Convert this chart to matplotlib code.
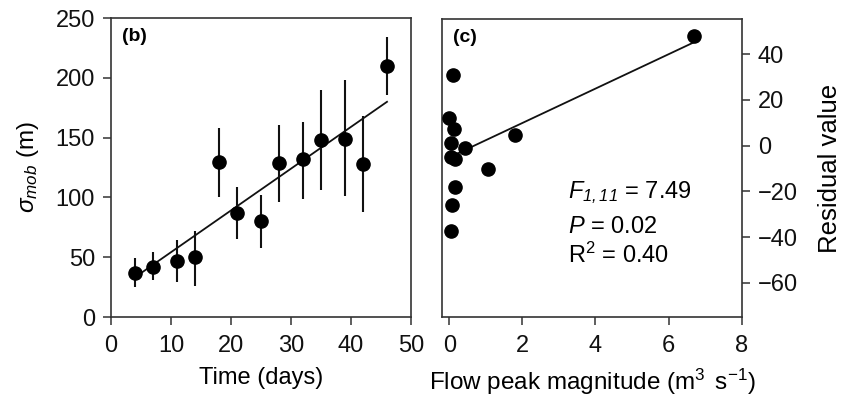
import matplotlib
matplotlib.use("Agg")
import matplotlib.pyplot as plt

plt.rcParams['font.family'] = ['Liberation Sans', 'DejaVu Sans']
plt.rcParams['mathtext.fontset'] = 'custom'
plt.rcParams['mathtext.rm'] = 'Liberation Sans'
plt.rcParams['mathtext.it'] = 'Liberation Sans:italic'
plt.rcParams['mathtext.bf'] = 'Liberation Sans:bold'
plt.rcParams['mathtext.sf'] = 'Liberation Sans:italic'

# Panel (b): sigma_mob vs time
time_days = [4, 7, 11, 14, 18, 21, 25, 28, 32, 35, 39, 42, 46]
sigma_mob = [37, 42, 47, 50, 130, 87, 80, 129, 132, 148, 149, 128, 210]
err_low = [25, 31, 29, 26, 100, 65, 58, 96, 99, 106, 101, 88, 186]
err_high = [49, 54, 64, 72, 158, 109, 102, 161, 163, 190, 198, 168, 234]
fit_b_x = [4.5, 46]
fit_b_y = [35, 180]

# Panel (c): residuals vs flow peak magnitude
flow_peak = [6.70, 0.11, 0.00, 0.13, 0.04, 0.42, 1.80, 0.05, 0.15, 1.07, 0.16, 0.07, 0.04]
residual = [48.2, 30.9, 12.3, 7.3, 1.0, -0.9, 4.7, -4.8, -6.0, -10.2, -18.2, -25.8, -37.2]
fit_c_x = [0.15, 6.7]
fit_c_y = [-4.0, 45.3]

FS = 17
fig = plt.figure(figsize=(8.45, 3.98), dpi=100)
ax1 = fig.add_axes([0.1314, 0.2035, 0.355, 0.751])
ax2 = fig.add_axes([0.5234, 0.2035, 0.3543, 0.7490])

spine_col = '#333333'
for ax in (ax1, ax2):
    for s in ax.spines.values():
        s.set_color(spine_col)
        s.set_linewidth(1.2)
    ax.tick_params(direction='out', length=5.5, width=1.1, pad=6, colors=spine_col,
                   labelsize=FS, labelcolor='#111111')
    ax.tick_params(axis='x', pad=7.5)

# Panel b
yerr = [[m - l for m, l in zip(sigma_mob, err_low)],
        [h - m for m, h in zip(sigma_mob, err_high)]]
ax1.errorbar(time_days, sigma_mob, yerr=yerr, fmt='o', color='black',
             ecolor='#111111', elinewidth=1.5, capsize=0, markersize=9.5, zorder=3)
ax1.plot(fit_b_x, fit_b_y, color='#111111', lw=1.3, zorder=2)
ax1.set_xlim(0, 50)
ax1.set_ylim(0, 250)
ax1.set_xticks([0, 10, 20, 30, 40, 50])
ax1.set_yticks([0, 50, 100, 150, 200, 250])
ax1.set_xlabel('Time (days)', fontsize=FS, labelpad=7)
ax1.set_ylabel(r'$\sigma_{mob}$ (m)', fontsize=17.5)
ax1.yaxis.set_label_coords(-0.235, 0.5)
ax1.text(0.037, 0.966, '(b)', transform=ax1.transAxes, fontsize=14,
         fontweight='bold', va='top', ha='left')

# Panel c
ax2.plot(flow_peak, residual, 'o', color='black', markersize=9.5, zorder=3)
ax2.plot(fit_c_x, fit_c_y, color='#111111', lw=1.3, zorder=2)
ax2.set_xlim(-0.19, 8)
ax2.set_ylim(-75, 55.5)
ax2.set_xticks([0, 2, 4, 6, 8])
ax2.set_yticks([-60, -40, -20, 0, 20, 40])
ax2.set_yticklabels(['\u221260', '\u221240', '\u221220', '0', '20', '40'])
ax2.yaxis.tick_right()
ax2.yaxis.set_label_position('right')
ax2.set_ylabel('Residual value', fontsize=18.5)
ax2.yaxis.set_label_coords(1.255, 0.5)
ax2.set_xlabel(r'Flow peak magnitude (m$^3$ $\,$s$^{-1}$)', fontsize=17.5, labelpad=7)
ax2.text(0.037, 0.966, '(c)', transform=ax2.transAxes, fontsize=14,
         fontweight='bold', va='top', ha='left')
ax2.text(3.25, -22.9, r'$F_{\mathsf{1,11}}$ = 7.49', fontsize=FS, va='baseline', ha='left')
ax2.text(3.25, -38.2, r'$P$ = 0.02', fontsize=FS, va='baseline', ha='left')
ax2.text(3.25, -51.3, r'R$^2$ = 0.40', fontsize=FS, va='baseline', ha='left')

fig.savefig('out.png', dpi=100)
